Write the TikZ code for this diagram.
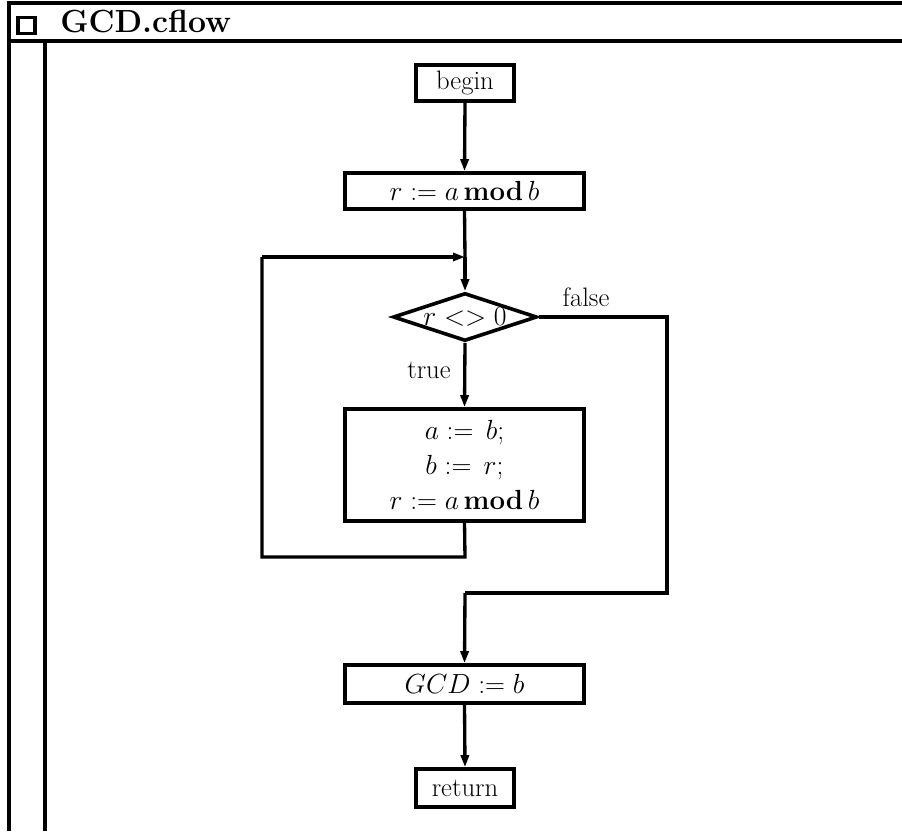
\documentclass[tikz,border=0pt]{standalone}
\usetikzlibrary{shapes.geometric,arrows.meta}
\begin{document}
\begin{tikzpicture}[x=0.75pt,y=-0.75pt,
  frame/.style={line width=3pt},
  flow/.style={line width=2.5pt},
  arr/.style={flow,-{Triangle[length=9pt,width=6pt]}},
  box/.style={draw,line width=2.7pt,rectangle,inner sep=0pt,font=\fontsize{20}{26}\selectfont},
  lbl/.style={inner sep=0pt,font=\fontsize{20}{24}\selectfont},
  dec/.style={draw,line width=2.7pt,diamond,aspect=3,inner sep=0pt,minimum width=108pt,minimum height=36pt,font=\fontsize{20}{24}\selectfont}]
\useasboundingbox (0,0) rectangle (902,831);
% frame
\draw[frame] (9,831) -- (9,3) -- (902,3);
\draw[frame] (9,41) -- (902,41);
\draw[frame] (45,41) -- (45,831);
\node[draw,line width=2.7pt,minimum width=13pt,minimum height=12pt,inner sep=0pt] (sq) at (26.5,25.5) {};
\node[anchor=base west,inner sep=0pt,font=\fontsize{24}{28}\selectfont\bfseries] (title) at (60,33) {GCD.cflow};
% nodes
\node[box,minimum width=73.5pt,minimum height=27pt] (begin) at (465,83) {begin};
\node[box,minimum width=179pt,minimum height=27pt] (assign) at (464.5,191) {$r := a \mathbf{\,mod\,} b$};
\node[dec] (cond) at (465,317) {$r <> 0$};
\node[box,minimum width=179pt,minimum height=84pt,align=center] (body) at (464.5,465) {$a :=\, b;$\\ $b :=\, r;$\\ $r := a \mathbf{\,mod\,} b$};
\node[box,minimum width=179pt,minimum height=28.5pt] (gcd) at (464.5,684) {$GCD := b$};
\node[box,minimum width=73.5pt,minimum height=28.5pt] (ret) at (465,788) {return};
\node[lbl] (false) at (586,297) {false};
\node[lbl] (true) at (429,370) {true};
% coordinates
\coordinate (join) at (465,257);
\coordinate (fb1) at (465,557);
\coordinate (fb2) at (262,557);
\coordinate (fb3) at (262,257);
\coordinate (f1) at (667,317);
\coordinate (f2) at (667,593);
\coordinate (f3) at (465,593);
% connectors
\draw[arr] (begin.south) -- (assign.north);
\draw[flow] (assign.south) -- (join);
\draw[arr] (join) -- (cond.north);
\draw[arr] (cond.south) -- (body.north);
\draw[flow] (body.south) -- (fb1) -- (fb2) -- (fb3);
\draw[arr] (fb3) -- (join);
\draw[flow,line width=2.8pt] (cond.east) -- (f1) -- (f2) -- (f3);
\draw[arr] (f3) -- (gcd.north);
\draw[arr] (gcd.south) -- (ret.north);
\end{tikzpicture}
\end{document}
